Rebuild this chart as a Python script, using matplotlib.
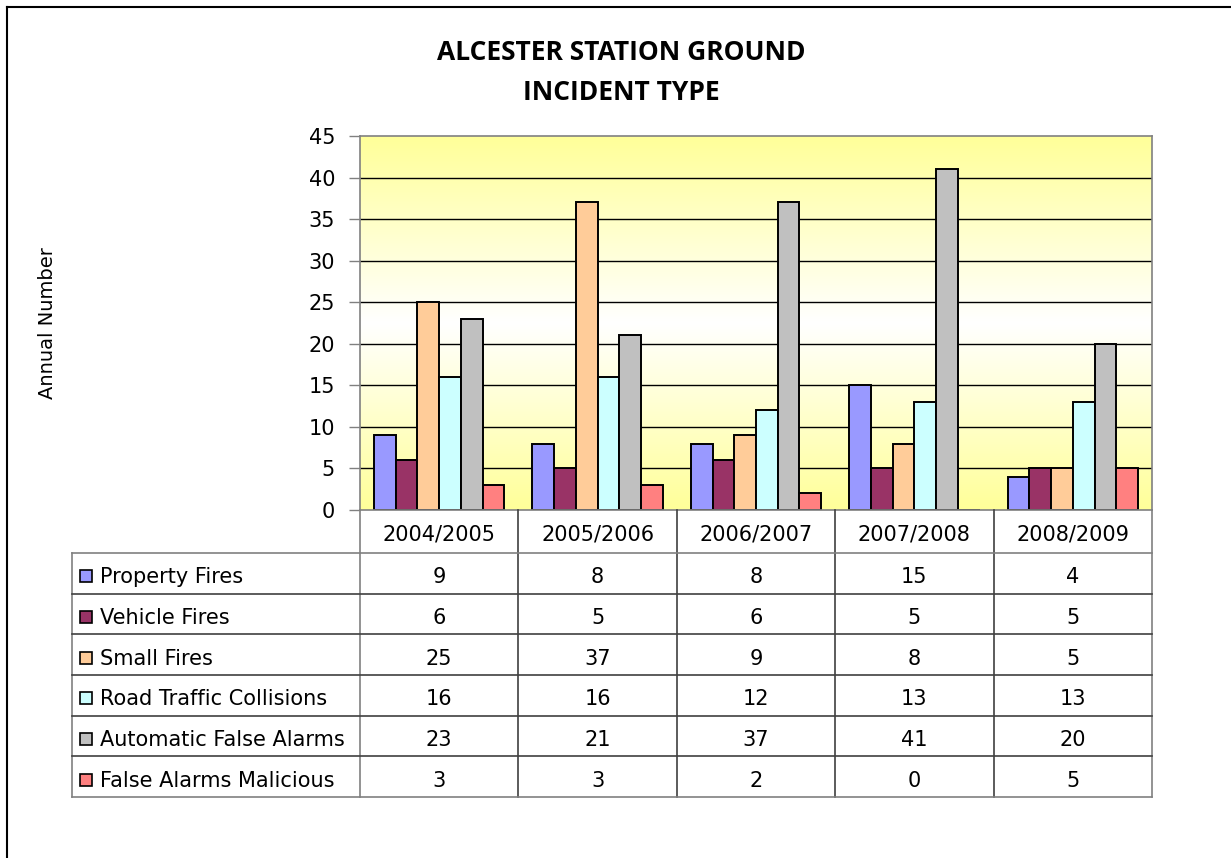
import numpy as np
import matplotlib
matplotlib.use("Agg")
import matplotlib.pyplot as plt
from matplotlib.lines import Line2D
from matplotlib.patches import Rectangle

plt.rcParams['font.family'] = ['DejaVu Sans']

years = ["2004/2005", "2005/2006", "2006/2007", "2007/2008", "2008/2009"]
series = ["Property Fires", "Vehicle Fires", "Small Fires",
          "Road Traffic Collisions", "Automatic False Alarms", "False Alarms Malicious"]
property_fires = [9, 8, 8, 15, 4]
vehicle_fires = [6, 5, 6, 5, 5]
small_fires = [25, 37, 9, 8, 5]
road_traffic = [16, 16, 12, 13, 13]
auto_false = [23, 21, 37, 41, 20]
false_malicious = [3, 3, 2, 0, 5]
values = [property_fires, vehicle_fires, small_fires, road_traffic, auto_false, false_malicious]
colors = ["#9999FF", "#993366", "#FFCC99", "#CCFFFF", "#C0C0C0", "#FF8080"]

W, H = 1231, 858
fig = plt.figure(figsize=(W / 100, H / 100), dpi=100)

# outer chart frame (only top/left visible)
fig.add_artist(Line2D([7 / W, 7 / W], [0, 1 - 7 / H], color="black", lw=1.5))
fig.add_artist(Line2D([7 / W, 1], [1 - 7 / H, 1 - 7 / H], color="black", lw=1.5))

# main plot area
ax = fig.add_axes([360 / W, (H - 510) / H, 792 / W, 374 / H])
ax.set_xlim(-0.5, 4.5)
ax.set_ylim(0, 45)

# yellow-white-yellow gradient background
t = np.linspace(0, 1, 256)
shade = np.abs(t - 0.5) * 2
yellow = np.array([1.0, 1.0, 0.6])
white = np.array([1.0, 1.0, 1.0])
grad = white + shade[:, None] * (yellow - white)
ax.imshow(grad[:, None, :], extent=[-0.5, 4.5, 0, 45], aspect="auto",
          origin="lower", zorder=0)

for y in range(5, 45, 5):
    ax.axhline(y, color="black", lw=1, zorder=1)

bw = 0.137
x = np.arange(len(years))
for k, (vals, c) in enumerate(zip(values, colors)):
    ax.bar(x + (k - 2.5) * bw, vals, width=bw, color=c, edgecolor="black",
           linewidth=1.4, zorder=2)

ax.set_yticks(range(0, 46, 5))
ax.set_xticks([])
ax.tick_params(axis="y", direction="out", length=8, width=1, color="#808080",
               labelsize=15, pad=10)
for s in ax.spines.values():
    s.set_color("#808080")
    s.set_linewidth(1.2)

fig.text(48 / W, 1 - 323 / H, "Annual Number", rotation=90, ha="center",
         va="center", fontsize=14)
fig.text(621 / W, 1 - 53 / H, "ALCESTER STATION GROUND", ha="center",
         va="center", fontsize=19, fontweight="bold", family="Open Sans")
fig.text(621 / W, 1 - 92 / H, "INCIDENT TYPE", ha="center",
         va="center", fontsize=19, fontweight="bold", family="Open Sans")

# data table under the chart
tx = fig.add_axes([0, 0, 1, 1])
tx.set_xlim(0, W)
tx.set_ylim(H, 0)
tx.axis("off")
tx.patch.set_alpha(0)

col_edges = np.linspace(360, 1152, len(years) + 1)
row_edges = [510] + list(553 + np.arange(len(series) + 1) * 40.67)
line_c = "#404040"

for i, xe in enumerate(col_edges):
    tx.plot([xe, xe], [510, row_edges[-1]],
            color="#808080" if i in (0, len(years)) else line_c, lw=1.2)
tx.plot([72, 72], [553, row_edges[-1]], color="#808080", lw=1.2)
for j, ye in enumerate(row_edges[1:]):
    tx.plot([72, 1152], [ye, ye],
            color="#808080" if j in (0, len(series)) else line_c, lw=1.2)

for i, yr in enumerate(years):
    cx = (col_edges[i] + col_edges[i + 1]) / 2
    tx.text(cx, (row_edges[0] + row_edges[1]) / 2 + 3, yr, ha="center",
            va="center", fontsize=15)

for j, (name, vals, c) in enumerate(zip(series, values, colors)):
    cy = (row_edges[j + 1] + row_edges[j + 2]) / 2 + 4
    tx.add_patch(Rectangle((80, cy - 7), 12, 12, facecolor=c,
                           edgecolor="black", lw=1.2))
    tx.text(100, cy, name, ha="left", va="center", fontsize=15)
    for i, v in enumerate(vals):
        cx = (col_edges[i] + col_edges[i + 1]) / 2
        tx.text(cx, cy, str(v), ha="center", va="center", fontsize=15)

fig.savefig("out.png", dpi=100)
